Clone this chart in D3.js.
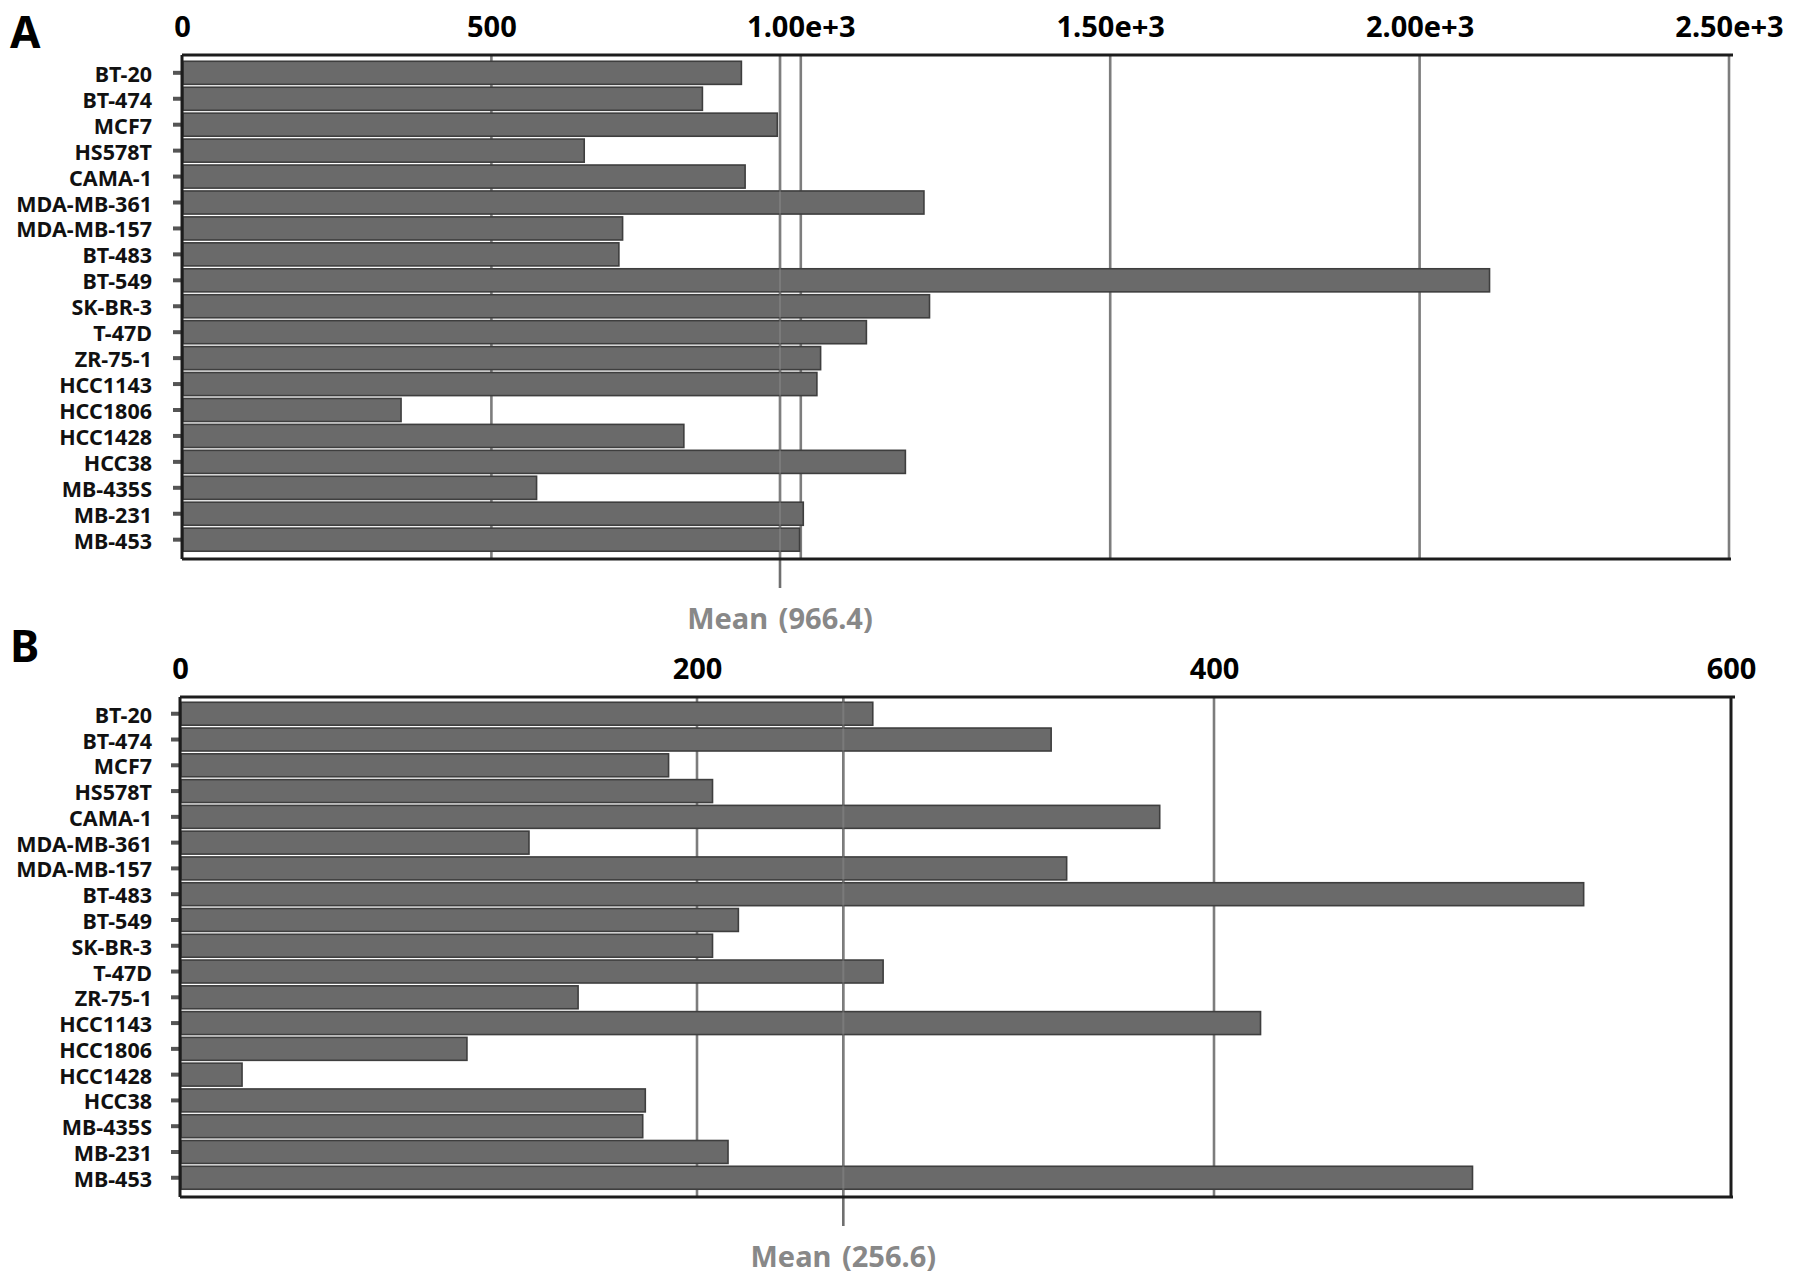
<!DOCTYPE html>
<html>
<head>
<meta charset="utf-8">
<script src="https://cdn.jsdelivr.net/npm/d3@7"></script>
<style>
  html, body { margin: 0; padding: 0; background: #fff; }
  svg { display: block; }
  text { font-family: "Noto Sans", "Open Sans", sans-serif; font-weight: bold; }
</style>
</head>
<body>
<svg id="chart" width="1795" height="1283"></svg>
<script>
const categories = ["BT-20","BT-474","MCF7","HS578T","CAMA-1","MDA-MB-361","MDA-MB-157","BT-483","BT-549","SK-BR-3","T-47D","ZR-75-1","HCC1143","HCC1806","HCC1428","HCC38","MB-435S","MB-231","MB-453"];

const valuesA = [904, 841, 962, 650, 910, 1199, 712, 706, 2113, 1208, 1106, 1032, 1026, 354, 811, 1169, 573, 1004, 998];
const valuesB = [268, 337, 189, 206, 379, 135, 343, 543, 216, 206, 272, 154, 418, 111, 24, 180, 179, 212, 500];

const meanA = 966.4;
const meanB = 256.6;

const ticksA = [0, 500, 1000, 1500, 2000, 2500];
const tickLabelsA = ["0", "500", "1.00e+3", "1.50e+3", "2.00e+3", "2.50e+3"];
const ticksB = [0, 200, 400, 600];
const tickLabelsB = ["0", "200", "400", "600"];

const panelLetters = ["A", "B"];

const svg = d3.select("#chart");

function drawPanel(cfg) {
  const g = svg.append("g");
  const x = d3.scaleLinear().domain([0, cfg.max]).range([cfg.left, cfg.right]);
  const y = d3.scaleBand().domain(categories).range([cfg.bandTop, cfg.bandBottom]).paddingInner(0.11).paddingOuter(0.03);

  // panel letter
  g.append("text").attr("x", 10).attr("y", cfg.letterY)
    .attr("font-size", 44).attr("fill", "#000").text(cfg.letter);

  // top axis labels
  const axisTop = d3.axisTop(x).tickValues(cfg.ticks)
    .tickFormat((d, i) => cfg.tickLabels[i]).tickSize(0).tickPadding(0);
  const ag = g.append("g").attr("transform", `translate(0,${cfg.labelY})`).call(axisTop);
  ag.select(".domain").remove();
  ag.selectAll("text").attr("font-size", 29).attr("fill", "#000")
    .attr("font-family", "'Noto Sans', sans-serif").attr("font-weight", "bold")
    .attr("dy", 0);

  // gridlines
  g.append("g").selectAll("line").data(cfg.ticks.filter(t => t > 0 && (cfg.grayRight || t < cfg.max)))
    .join("line")
    .attr("x1", d => x(d)).attr("x2", d => x(d))
    .attr("y1", cfg.frameTop).attr("y2", cfg.frameBottom)
    .attr("stroke", "#7d7d7d").attr("stroke-width", 2.6);

  // mean line (behind bars)
  g.append("line").attr("x1", x(cfg.mean)).attr("x2", x(cfg.mean))
    .attr("y1", cfg.frameTop).attr("y2", cfg.meanBottom)
    .attr("stroke", "#6f6f6f").attr("stroke-width", 2.6);

  // left ticks
  const axisLeft = d3.axisLeft(y).tickSize(8).tickPadding(20);
  const lg = g.append("g").attr("transform", `translate(${cfg.left - 1},0)`).call(axisLeft);
  lg.select(".domain").remove();
  lg.selectAll(".tick line").attr("stroke", "#555").attr("stroke-width", 4);
  lg.selectAll(".tick text").attr("font-size", 21.5).attr("fill", "#111")
    .attr("font-family", "'Noto Sans', sans-serif").attr("font-weight", "bold")
    .attr("dy", null).attr("dominant-baseline", "alphabetic")
    .attr("y", cfg.labelShift).attr("x", -(cfg.left - 1 - 152));

  // bars
  const vals = cfg.values;
  g.append("g").selectAll("rect").data(categories).join("rect")
    .attr("x", x(0) + 1)
    .attr("y", d => y(d))
    .attr("width", (d, i) => x(vals[i]) - x(0) - 1)
    .attr("height", y.bandwidth())
    .attr("fill", "#6a6a6a")
    .attr("stroke", "#3e3e3e").attr("stroke-width", 1.6);

  // faint mean line overlay
  g.append("line").attr("x1", x(cfg.mean)).attr("x2", x(cfg.mean))
    .attr("y1", cfg.frameTop).attr("y2", cfg.frameBottom)
    .attr("stroke", "#9a9a9a").attr("stroke-width", 2).attr("opacity", 0.35);

  // frame
  const fc = "#1c1c1c";
  g.append("line").attr("x1", cfg.left).attr("x2", cfg.right + 4)
    .attr("y1", cfg.frameTop).attr("y2", cfg.frameTop).attr("stroke", fc).attr("stroke-width", 3);
  g.append("line").attr("x1", cfg.left).attr("x2", cfg.right + 2)
    .attr("y1", cfg.frameBottom).attr("y2", cfg.frameBottom).attr("stroke", fc).attr("stroke-width", 3);
  g.append("line").attr("x1", cfg.left).attr("x2", cfg.left)
    .attr("y1", cfg.frameTop).attr("y2", cfg.frameBottom).attr("stroke", fc).attr("stroke-width", 3);
  if (!cfg.grayRight) {
    g.append("line").attr("x1", cfg.right).attr("x2", cfg.right)
      .attr("y1", cfg.frameTop).attr("y2", cfg.frameBottom).attr("stroke", fc).attr("stroke-width", 3);
  }

  // mean label
  g.append("text").attr("x", x(cfg.mean)).attr("y", cfg.meanTextY)
    .attr("text-anchor", "middle").attr("font-size", 29).attr("fill", "#888888")
    .attr("word-spacing", 3)
    .text(`Mean (${cfg.mean.toFixed(1)})`);
}

drawPanel({
  letter: panelLetters[0], letterY: 48,
  values: valuesA, mean: meanA, max: 2500,
  ticks: ticksA, tickLabelsA: null, tickLabels: tickLabelsA,
  left: 182, right: 1729, labelY: 37,
  frameTop: 55, frameBottom: 559, bandTop: 60.5, bandBottom: 552,
  meanBottom: 588, meanTextY: 629, labelShift: 9, grayRight: true
});

drawPanel({
  letter: panelLetters[1], letterY: 662,
  values: valuesB, mean: meanB, max: 600,
  ticks: ticksB, tickLabels: tickLabelsB,
  left: 180, right: 1731, labelY: 679,
  frameTop: 697, frameBottom: 1197, bandTop: 701.5, bandBottom: 1190,
  meanBottom: 1226, meanTextY: 1267, labelShift: 9, grayRight: false
});
</script>
</body>
</html>
